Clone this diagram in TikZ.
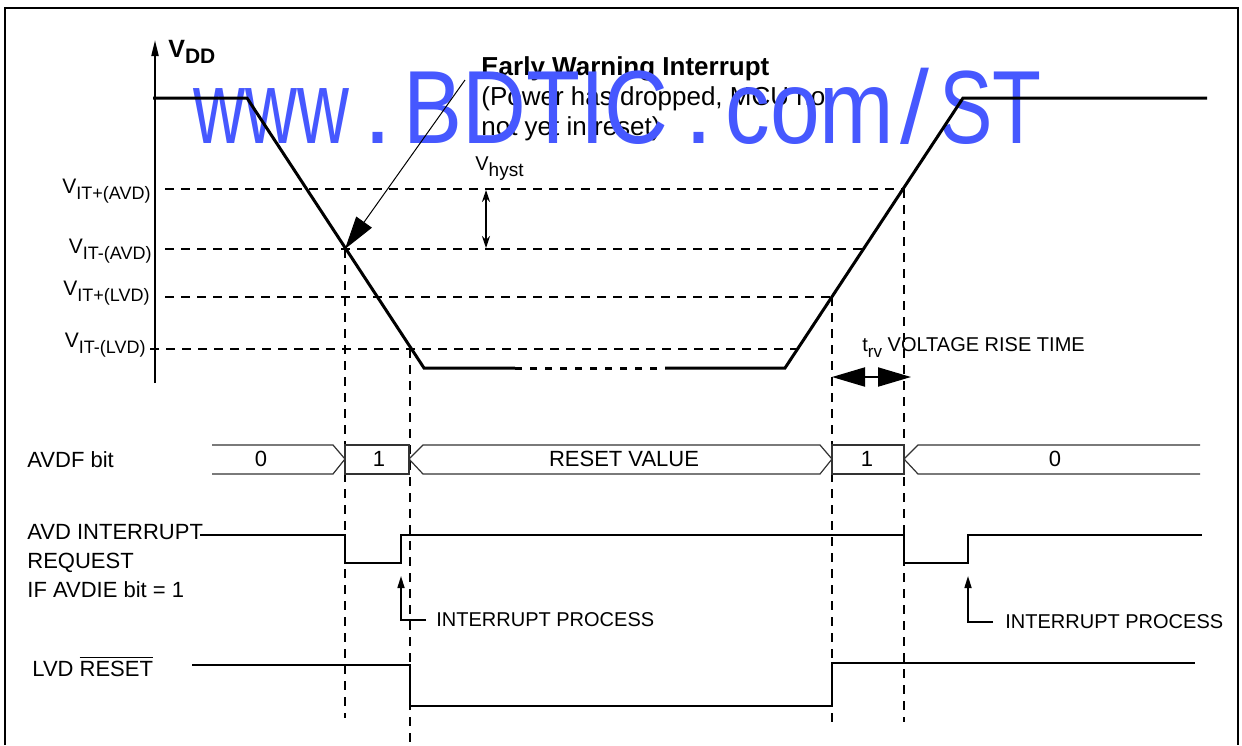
\documentclass[tikz,border=0pt]{standalone}
\usepackage{fontspec}
\setmainfont{Liberation Sans}
\usetikzlibrary{arrows.meta}

\definecolor{wmblue}{RGB}{70,88,255}
\newcommand{\lowsub}[2][9]{\raisebox{-3.2pt}{\fontsize{#1}{#1}\selectfont #2}}

\tikzset{
  vcurve/.style={line width=1.5pt, line join=miter},
  guide/.style={line width=0.7pt, dash pattern=on 4.5pt off 3.5pt},
  sig/.style={line width=1pt},
  bus/.style={line width=0.6pt, black!80},
  bigtip/.tip={Triangle[length=16.5pt,width=9.5pt]},
  smalltip/.tip={Triangle[length=6pt,width=3.5pt]},
  lbl/.style={font=\fontsize{11}{14.5}\selectfont, inner sep=0pt},
  small/.style={font=\fontsize{10}{10}\selectfont, inner sep=0pt},
  wm/.style={text=wmblue, font=\fontsize{52}{52}\selectfont, inner sep=0pt, anchor=base west}
}

\begin{document}
\begin{tikzpicture}[x=0.5pt, y=-0.5pt]
    \useasboundingbox (0,0) rectangle (1242,745);

    % 1. Texts (they lie under the watermark)
    \node[anchor=base west, inner sep=0pt, font=\bfseries\fontsize{12.5}{12.5}\selectfont] (vdd) at (168,57) {V\lowsub[10.5]{DD}};
    \node[anchor=base east, inner sep=0pt, font=\fontsize{10.5}{10.5}\selectfont] (lavdp) at (151,193) {V\lowsub{IT+(AVD)}};
    \node[anchor=base east, inner sep=0pt, font=\fontsize{10.5}{10.5}\selectfont] (lavdm) at (152,253) {V\lowsub{IT-(AVD)}};
    \node[anchor=base east, inner sep=0pt, font=\fontsize{10.5}{10.5}\selectfont] (llvdp) at (150,295) {V\lowsub{IT+(LVD)}};
    \node[anchor=base east, inner sep=0pt, font=\fontsize{10.5}{10.5}\selectfont] (llvdm) at (146,347) {V\lowsub{IT-(LVD)}};

    \node[anchor=north west, align=left, inner sep=0pt, font=\fontsize{13}{15}\selectfont] (ew) at (481,56)
        {\textbf{Early Warning Interrupt}\\(Power has dropped, MCU not\\not yet in reset)};
    \node[small, anchor=base west] (hyst) at (475,170) {V\lowsub[9.5]{hyst}};
    \node[small, anchor=base west] (trv) at (862,351) {t\lowsub[8.5]{rv} VOLTAGE RISE TIME};

    \node[lbl, anchor=base west] (avdf) at (27,467) {AVDF bit};
    \node[lbl, anchor=north west, align=left] (avdreq) at (27,524) {AVD INTERRUPT\\REQUEST\\IF AVDIE bit = 1};
    \node[lbl, anchor=base west] (lvd) at (32,676) {LVD $\overline{\hbox{RESET}}$};

    \node[lbl] (bit0a) at (261,459) {0};
    \node[lbl] (bit1a) at (379,459) {1};
    \node[lbl] (rstval) at (624,459) {RESET VALUE};
    \node[lbl] (bit1b) at (867,459) {1};
    \node[lbl] (bit0b) at (1055,459) {0};

    \node[small, anchor=west] (ipa) at (436,620) {INTERRUPT PROCESS};
    \node[small, anchor=west] (ipb) at (1005,622) {INTERRUPT PROCESS};

    % 2. Watermark
    \foreach \wx/\ws/\wt in {193/0.69/www, 363/1/., 403/0.85/BDTIC, 684/1/., 725/0.86/com, 900/1/{/}, 939/0.77/ST}
        \node[wm] (wm\wx) at (\wx,143) {\scalebox{\ws}[1]{\wt}};

    % 3. Frame and V_DD axis
    \draw[line width=1pt] (5,745) -- (5,8) -- (1238,8) -- (1238,745);
    \draw[line width=1pt, -{Triangle[length=8pt,width=3.5pt]}] (155,383) -- (155,40);

    % Crossings of the V_DD curve with the thresholds
    \coordinate (xa1) at (345,249);
    \coordinate (xa2) at (410,349);
    \coordinate (xa3) at (832,297);
    \coordinate (xa4) at (904,189);

    % Threshold levels
    \draw[guide] (165,189) -- (xa4);
    \draw[guide] (165,249) -- (864,249);
    \draw[guide] (165,297) -- (xa3);
    \draw[guide] (150,349) -- (798,349);

    % Vertical guides
    \draw[guide] (xa1) -- (345,718);
    \draw[guide] (xa2) -- (410,745);
    \draw[guide] (xa3) -- (832,722);
    \draw[guide] (xa4) -- (904,722);

    % V_DD curve
    \draw[vcurve] (153,98) -- (247,98) -- (424,368) -- (515,368);
    \draw[vcurve, dash pattern=on 3.5pt off 4pt] (515,368) -- (665,368);
    \draw[vcurve] (665,368) -- (785,368) -- (963,98) -- (1207,98);

    % Early warning arrow
    \coordinate (ewtail) at (465,80);
    \draw[line width=0.5pt, -bigtip] (ewtail) -- (xa1);

    % V_hyst
    \coordinate (hup) at (486,190);
    \coordinate (hdn) at (486,248);
    \draw[line width=0.8pt, {Stealth[length=6pt,width=4pt]}-{Stealth[length=6pt,width=4pt]}] (hup) -- (hdn);

    % t_rv
    \coordinate (trvl) at (832,377);
    \coordinate (trvr) at (911,377);
    \draw[line width=1pt, bigtip-bigtip] (trvl) -- (trvr);

    % 4. AVDF bit bus
    \draw[bus] (212,445) -- (333,445) -- (345,459) -- (333,474) -- (212,474);
    \draw[bus] (345,445) rectangle (409,474);
    \draw[bus] (423,445) -- (820,445) -- (832,459) -- (820,474) -- (423,474) -- (409,459) -- cycle;
    \draw[bus] (832,445) rectangle (904,474);
    \draw[bus] (1200,445) -- (918,445) -- (904,459) -- (918,474) -- (1200,474);

    % 5. AVD interrupt request
    \draw[sig] (200,535) -- (345,535) -- (345,563) -- (401,563) -- (401,535) -- (904,535) -- (904,563) -- (968,563) -- (968,535) -- (1202,535);
    \coordinate (ipta) at (401,576);
    \coordinate (iptb) at (968,576);
    \draw[line width=0.8pt, -smalltip] ([xshift=-5pt]ipa.west) -| (ipta);
    \draw[line width=0.8pt, -smalltip] ([xshift=-6pt]ipb.west) -| (iptb);

    % 6. LVD reset
    \draw[sig] (192,665) -- (410,665) -- (410,706) -- (832,706) -- (832,663) -- (1195,663);
\end{tikzpicture}
\end{document}
